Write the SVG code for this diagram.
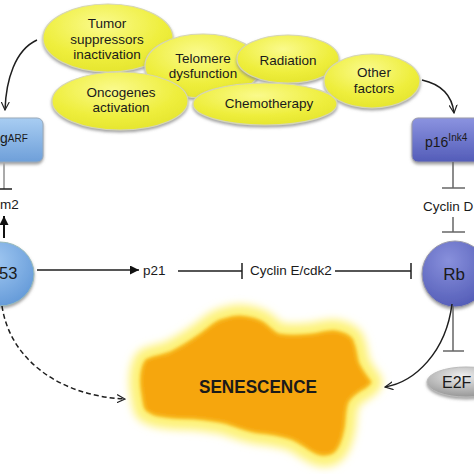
<svg xmlns="http://www.w3.org/2000/svg" width="474" height="474" viewBox="0 0 474 474">
<defs>
<style>
text{font-family:"Liberation Sans",Arial,sans-serif;fill:#1a1a1a}
.el{font-size:13.5px}
.c{text-anchor:middle}
.ln{stroke:#1e1e1e;stroke-width:1.5;fill:none}
.gr{stroke:#666;stroke-width:1.5;fill:none}
.lg{stroke:#aaa;stroke-width:2;fill:none}
.yel{fill:url(#gy);stroke:#d6d6b4;stroke-width:1.2;filter:url(#fz)}
</style>
<radialGradient id="gy" cx="0.45" cy="0.3" r="0.8">
<stop offset="0" stop-color="#fafa8c"/>
<stop offset="0.6" stop-color="#eeee3c"/>
<stop offset="1" stop-color="#e2e22a"/>
</radialGradient>
<linearGradient id="gb" x1="0" y1="0" x2="0" y2="1">
<stop offset="0" stop-color="#a8cdf2"/>
<stop offset="1" stop-color="#6e9fd9"/>
</linearGradient>
<radialGradient id="gc" cx="0.4" cy="0.3" r="0.8">
<stop offset="0" stop-color="#a2c9f2"/>
<stop offset="1" stop-color="#5f96d6"/>
</radialGradient>
<linearGradient id="gp" x1="0" y1="0" x2="0" y2="1">
<stop offset="0" stop-color="#8b93e0"/>
<stop offset="1" stop-color="#535cb8"/>
</linearGradient>
<radialGradient id="gr2" cx="0.4" cy="0.3" r="0.8">
<stop offset="0" stop-color="#8890dc"/>
<stop offset="1" stop-color="#4f58b4"/>
</radialGradient>
<radialGradient id="gg" cx="0.45" cy="0.3" r="0.8">
<stop offset="0" stop-color="#eeeeee"/>
<stop offset="1" stop-color="#8a8a8a"/>
</radialGradient>
<filter id="fz" x="-10%" y="-10%" width="120%" height="130%">
<feGaussianBlur in="SourceAlpha" stdDeviation="1.6"/>
<feOffset dx="0" dy="1.5" result="b"/>
<feFlood flood-color="#8a8a8a" flood-opacity="0.8"/>
<feComposite in2="b" operator="in" result="s"/>
<feMerge><feMergeNode in="s"/><feMergeNode in="SourceGraphic"/></feMerge>
</filter>
<filter id="glow" x="-20%" y="-20%" width="140%" height="140%">
<feGaussianBlur stdDeviation="4"/>
</filter>
<filter id="soft" x="-10%" y="-10%" width="120%" height="120%">
<feGaussianBlur stdDeviation="1.5"/>
</filter>
<marker id="af" viewBox="0 0 10 10" refX="10" refY="5" markerWidth="10" markerHeight="9" markerUnits="userSpaceOnUse" orient="auto">
<path d="M0,0 L10,5 L0,10 z" fill="#111"/>
</marker>
<marker id="ao" viewBox="0 0 10 10" refX="9" refY="5" markerWidth="9" markerHeight="9" markerUnits="userSpaceOnUse" orient="auto">
<path d="M0,0.5 L9,5 L0,9.5" fill="none" stroke="#222" stroke-width="1.3"/>
</marker>
</defs>
<rect width="474" height="474" fill="#fff"/>

<g id="senescence">
<path d="M142,390 C140,375 143,364 147,360 C155,356 163,356 170,353 C182,347 190,342 197,337 C208,330 214,322 223,320 C232,317 238,316 243,317 C252,318 258,320 263,323 C270,328 274,334 280,335 C292,337 300,336 310,335 C320,334 330,330 337,332 C346,334 352,338 353,343 C356,350 356,358 358,363 C362,372 367,377 370,382 C368,386 364,388 360,390 C354,394 349,398 347,403 C344,412 345,422 343,430 C341,440 338,448 333,452 C327,456 322,455 317,453 C307,449 300,441 290,438 C280,435 268,433 257,432 C245,430 236,426 227,423 C215,420 204,419 193,418 C180,418 167,417 157,415 C150,413 146,411 145,407 C143,400 143,395 142,390 Z" fill="#fdf27a" stroke="#fdf27a" stroke-width="24" stroke-linejoin="round" filter="url(#glow)"/>
<path d="M142,390 C140,375 143,364 147,360 C155,356 163,356 170,353 C182,347 190,342 197,337 C208,330 214,322 223,320 C232,317 238,316 243,317 C252,318 258,320 263,323 C270,328 274,334 280,335 C292,337 300,336 310,335 C320,334 330,330 337,332 C346,334 352,338 353,343 C356,350 356,358 358,363 C362,372 367,377 370,382 C368,386 364,388 360,390 C354,394 349,398 347,403 C344,412 345,422 343,430 C341,440 338,448 333,452 C327,456 322,455 317,453 C307,449 300,441 290,438 C280,435 268,433 257,432 C245,430 236,426 227,423 C215,420 204,419 193,418 C180,418 167,417 157,415 C150,413 146,411 145,407 C143,400 143,395 142,390 Z" fill="#f6a611" stroke="#f8b81c" stroke-width="3" filter="url(#soft)"/>
<text x="258" y="393" class="c" font-size="19" font-weight="bold" textLength="118" lengthAdjust="spacingAndGlyphs">SENESCENCE</text>
</g>

<g id="tumor">
<ellipse cx="108" cy="38" rx="65" ry="34" class="yel"/>
<text class="el c" x="107" y="28">Tumor</text>
<text class="el c" x="107" y="44">suppressors</text>
<text class="el c" x="107" y="59">inactivation</text>
</g>
<g id="telomere">
<ellipse cx="203" cy="66" rx="58" ry="32" class="yel"/>
<text class="el c" x="203" y="63">Telomere</text>
<text class="el c" x="203" y="78">dysfunction</text>
</g>
<g id="radiation">
<ellipse cx="288" cy="59" rx="51" ry="24" class="yel"/>
<text class="el c" x="288" y="65">Radiation</text>
</g>
<g id="other">
<ellipse cx="372" cy="81" rx="48" ry="27" class="yel"/>
<text class="el c" x="374" y="77">Other</text>
<text class="el c" x="374" y="93">factors</text>
</g>
<g id="oncogenes">
<ellipse cx="120" cy="101" rx="68" ry="29" class="yel"/>
<text class="el c" x="121" y="97">Oncogenes</text>
<text class="el c" x="121" y="112">activation</text>
</g>
<g id="chemotherapy">
<ellipse cx="265" cy="104" rx="72" ry="21" class="yel"/>
<text class="el c" x="269" y="108">Chemotherapy</text>
</g>

<g id="p14arf">
<rect x="-20" y="118" width="63" height="44" rx="6" fill="url(#gb)" stroke="#9ab" stroke-width="1" filter="url(#fz)"/>
<text x="0" y="143" font-size="14">g<tspan font-size="10" dy="-1">ARF</tspan></text>
</g>
<g id="mdm2">
<text x="0" y="209" font-size="13.5">m2</text>
</g>
<g id="p53">
<ellipse cx="0" cy="274" rx="34" ry="32" fill="url(#gc)" stroke="#9bb" stroke-width="1" filter="url(#fz)"/>
<text x="-1" y="279" font-size="16.5">53</text>
</g>
<g id="p21">
<text x="143" y="275" font-size="13.5">p21</text>
</g>
<g id="cycline">
<text x="250" y="275" font-size="13.5">Cyclin E/cdk2</text>
</g>
<g id="p16">
<rect x="412" y="118" width="80" height="44" rx="6" fill="url(#gp)" stroke="#99a" stroke-width="1" filter="url(#fz)"/>
<text x="425" y="147" font-size="14">p16<tspan font-size="10" dy="-6">Ink4</tspan></text>
</g>
<g id="cyclind">
<text x="423" y="211" font-size="13.5">Cyclin D</text>
</g>
<g id="rb">
<circle cx="455" cy="274" r="33" fill="url(#gr2)" stroke="#99a" stroke-width="1" filter="url(#fz)"/>
<text x="454" y="280" class="c" font-size="17">Rb</text>
</g>
<g id="e2f">
<ellipse cx="466" cy="382" rx="39" ry="15" fill="url(#gg)" stroke="#bbb" stroke-width="1" filter="url(#fz)"/>
<text x="442" y="388" font-size="16">E2F</text>
</g>

<g id="connectors">
<path class="ln" d="M37,40 C15,50 6,80 5,110" marker-end="url(#ao)"/>
<path class="ln" d="M422,80 C440,84 452,95 454,113" marker-end="url(#ao)"/>
<line class="lg" x1="4" y1="162" x2="4" y2="189"/>
<line class="ln" x1="-4" y1="189" x2="12" y2="189"/>
<line x1="4" y1="238" x2="4" y2="216" stroke="#111" stroke-width="2" marker-end="url(#af)"/>
<line class="ln" x1="37" y1="270" x2="139" y2="270" marker-end="url(#af)"/>
<line class="ln" x1="178" y1="271" x2="242" y2="271"/>
<line class="ln" x1="242" y1="263" x2="242" y2="279"/>
<line class="ln" x1="335" y1="271" x2="411" y2="271"/>
<line class="ln" x1="411" y1="263" x2="411" y2="279"/>
<line class="gr" x1="453" y1="162" x2="453" y2="188"/>
<line class="gr" x1="442" y1="188" x2="465" y2="188"/>
<line class="gr" x1="453" y1="217" x2="453" y2="232"/>
<line class="gr" x1="442" y1="232" x2="465" y2="232"/>
<line class="gr" x1="453" y1="306" x2="453" y2="351"/>
<line class="gr" x1="443" y1="351" x2="464" y2="351"/>
<path class="ln" d="M452,304 C446,352 415,382 385,387" marker-end="url(#ao)"/>
<path class="ln" d="M2,306 C10,360 60,396 125,399" stroke-dasharray="5 3" marker-end="url(#ao)"/>
</g>
</svg>
